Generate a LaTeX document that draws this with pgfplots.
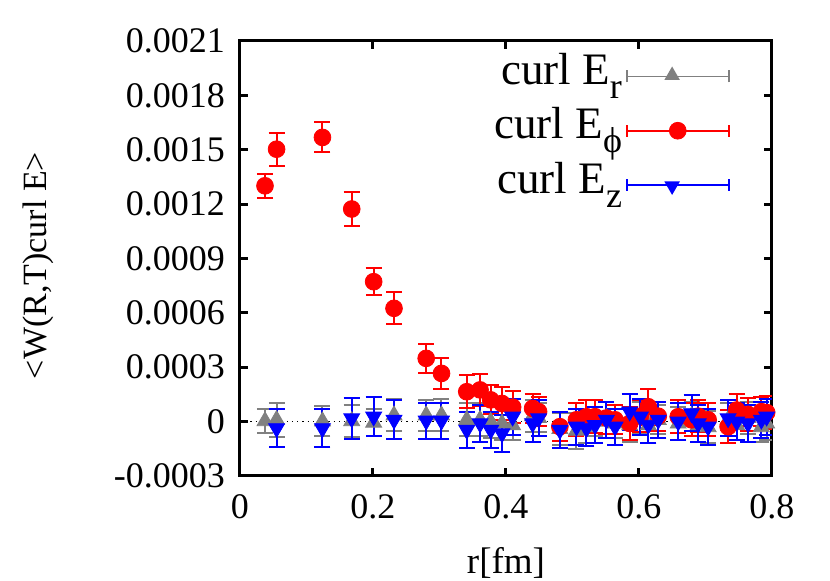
\documentclass[border=0pt]{standalone}
\usepackage{fontspec}
\setmainfont{Liberation Serif}
\usepackage{pgfplots}
\pgfplotsset{compat=1.18}
\usepackage{pgfplotstable}
\usetikzlibrary{shapes.geometric}

% r, value, error
\pgfplotstableread{
r y e
0.0376 0.000003 0.000066
0.055 0.00001 0.000093
0.124 0.000002 0.000083
0.168 0.000003 0.000088
0.201 -0.000005 0.000072
0.2316 0.000035 0.000088
0.28 0.000035 0.000085
0.303 0.000035 0.000088
0.341 0.00001 0.00009
0.361 0.00001 0.00009
0.377 0.0 0.00009
0.394 -0.00001 0.00009
0.410 -0.00002 0.00008
0.440 0.00003 0.00009
0.449 0.00002 0.00008
0.481 -0.00004 0.00009
0.506 -0.00005 0.0001
0.521 -0.00003 0.00009
0.534 0.0 0.00008
0.551 0.00002 0.00009
0.564 -0.00001 0.00008
0.586 -0.00002 0.00009
0.602 0.00002 0.00009
0.614 -0.00002 0.0001
0.629 0.00001 0.00008
0.659 -0.00001 0.00009
0.679 0.00003 0.00008
0.689 -0.00002 0.00009
0.704 -0.00003 0.00009
0.734 0.00001 0.00009
0.747 -0.00002 0.00008
0.764 0.00002 0.00009
0.784 -0.00003 0.00008
0.792 -0.00001 0.00009
}\curlEr

\pgfplotstableread{
r y e
0.0376 0.001301 0.000066
0.055 0.001503 0.000092
0.124 0.001568 0.000083
0.168 0.001173 0.000092
0.201 0.000772 0.000075
0.2316 0.000625 0.000088
0.28 0.000349 0.000079
0.303 0.000266 0.000085
0.341 0.000165 0.00009
0.361 0.000175 0.00009
0.377 0.00012 0.00008
0.394 0.0001 0.00009
0.410 0.00008 0.00009
0.440 0.000073 0.00008
0.449 0.000055 0.00008
0.481 -0.000028 0.00008
0.506 0.00001 0.00009
0.521 0.000027 0.00009
0.534 0.000027 0.00009
0.551 0.00002 0.00009
0.564 0.00001 0.00008
0.586 -0.00001 0.00009
0.602 0.00003 0.00009
0.614 0.000082 0.0001
0.629 0.00003 0.00008
0.659 0.000027 0.00009
0.679 0.00001 0.00009
0.689 0.00003 0.00009
0.704 0.00001 0.00009
0.734 -0.000028 0.00009
0.747 0.000064 0.00009
0.764 0.00004 0.00009
0.784 0.000055 0.00008
0.792 0.00005 0.00009
}\curlEphi

\pgfplotstableread{
r y e
0.055 -0.000037 0.000104
0.124 -0.000037 0.000104
0.168 0.000018 0.000112
0.201 0.000027 0.000108
0.2316 0.00001 0.000107
0.28 0.000005 0.0001
0.303 0.000005 0.0001
0.341 -0.000046 0.0001
0.361 -0.00001 0.0001
0.377 -0.000046 0.0001
0.394 -0.000065 0.0001
0.410 0.000027 0.0001
0.440 -0.00001 0.0001
0.449 0.000018 0.0001
0.481 -0.000046 0.0001
0.506 -0.000028 0.0001
0.521 -0.000037 0.0001
0.534 -0.00002 0.0001
0.551 0.00001 0.0001
0.564 -0.000028 0.0001
0.586 0.000055 0.0001
0.602 0.000027 0.0001
0.614 -0.000018 0.0001
0.629 0.00001 0.0001
0.659 0.0 0.0001
0.679 0.000046 0.0001
0.689 -0.00001 0.0001
0.704 -0.000028 0.0001
0.734 0.000018 0.0001
0.747 0.0 0.0001
0.764 -0.00001 0.0001
0.784 0.00001 0.0001
0.792 0.000027 0.0001
}\curlEz

\newcommand{\sub}[1]{\raisebox{-7pt}{\fontsize{18}{18}\selectfont #1}}

\pgfplotsset{
  errstyle/.style={
    only marks,
    error bars/.cd, y dir=both, y explicit,
    error bar style={line width=1pt},
    error mark options={line width=1pt, mark size=4pt, rotate=90},
    /pgfplots/.cd,
  },
}

\begin{document}
\begin{tikzpicture}
\begin{axis}[
  scale only axis,
  width=266pt, height=217.5pt,
  xmin=0, xmax=0.8, ymin=-0.0003, ymax=0.0021,
  scaled y ticks=false, scaled x ticks=false,
  xtick={0,0.2,0.4,0.6,0.8},
  xticklabels={0,0.2,0.4,0.6,0.8},
  ytick={-0.0003,0,0.0003,0.0006,0.0009,0.0012,0.0015,0.0018,0.0021},
  yticklabels={-0.0003,0,0.0003,0.0006,0.0009,0.0012,0.0015,0.0018,0.0021},
  tick align=inside,
  major tick length=4pt,
  every tick/.style={black, line width=1.5pt},
  axis line style={line width=1.5pt},
  font=\fontsize{18}{20}\selectfont,
  yticklabel style={xshift=-4pt},
  xticklabel style={yshift=-6pt},
  xlabel={r[fm]},
  ylabel={<W(R,T)curl E>},
  xlabel style={at={(axis description cs:0.5,0)}, anchor=center, yshift=-43.5pt,
    font=\fontsize{18.5}{20}\selectfont},
  ylabel style={at={(axis description cs:0,0.5)}, anchor=center, yshift=101pt,
    xshift=-3.5pt, font=\fontsize{17}{19}\selectfont},
  legend plot pos=right,
  legend cell align=right,
  legend style={draw=none, fill=none, at={(rel axis cs:1,1)}, anchor=north east,
    xshift=-18pt, yshift=-2pt, row sep=6pt,
    font=\fontsize{22.5}{24}\selectfont,
    nodes={inner sep=2pt}},
]
\addplot[black, dotted, line width=0.6pt, forget plot] coordinates {(0,0) (0.8,0)};

\addplot[color=gray, mark=triangle*, mark size=4.6pt, errstyle,
  legend image code/.code={
    \draw[gray, line width=0.8pt] (0pt,-3pt) -- (51pt,-3pt)
      (0pt,-6pt) -- (0pt,0pt) (51pt,-6pt) -- (51pt,0pt);
    \node[gray, fill, regular polygon, regular polygon sides=3, inner sep=0pt, minimum size=9pt] at (25.5pt,-2.5pt) {};
  }]
  table[x=r, y=y, y error=e] {\curlEr};
\addlegendentry{curl E\sub{r}}

\addplot[color=red, mark=*, mark size=4.2pt, errstyle,
  legend image code/.code={
    \draw[red, line width=0.8pt] (0pt,-3pt) -- (51pt,-3pt)
      (0pt,-6pt) -- (0pt,0pt) (51pt,-6pt) -- (51pt,0pt);
    \fill[red] (25.5pt,-3pt) circle (4.2pt);
  }]
  table[x=r, y=y, y error=e] {\curlEphi};
\addlegendentry{curl E\sub{ϕ}}

\addplot[color=blue, mark=triangle*, mark size=4.6pt, mark options={rotate=180}, errstyle,
  legend image code/.code={
    \draw[blue, line width=0.8pt] (0pt,-3pt) -- (51pt,-3pt)
      (0pt,-6pt) -- (0pt,0pt) (51pt,-6pt) -- (51pt,0pt);
    \node[blue, fill, regular polygon, regular polygon sides=3, shape border rotate=180, inner sep=0pt, minimum size=9pt] at (25.5pt,-3.5pt) {};
  }]
  table[x=r, y=y, y error=e] {\curlEz};
\addlegendentry{curl E\sub{z}}
\end{axis}
\pgfresetboundingbox
\path[use as bounding box] (-120pt,-52.5pt) rectangle (295pt,238pt);
\end{tikzpicture}
\end{document}
